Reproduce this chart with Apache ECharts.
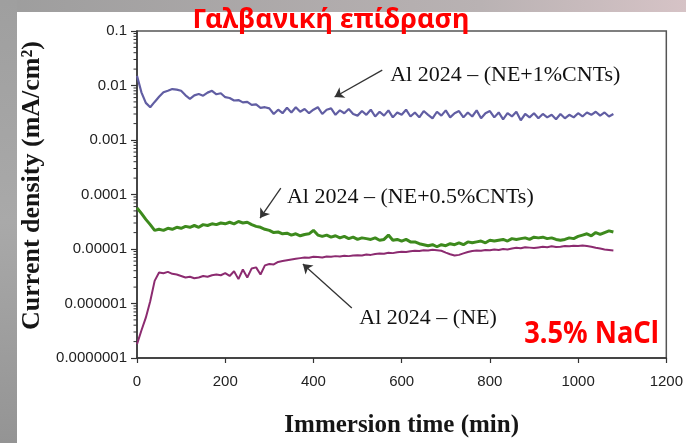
<!DOCTYPE html>
<html>
<head>
<meta charset="utf-8">
<script src="https://cdn.jsdelivr.net/npm/echarts@6/dist/echarts.min.js"></script>
<style>
  html, body { margin: 0; padding: 0; background: #ffffff; }
  #chart { width: 686px; height: 443px; }
</style>
</head>
<body>
<div id="chart"></div>
<script>
// Immersion time, minutes (sampling every 10 min)
const times = [
  0, 10, 20, 30, 40, 50, 60, 70, 80, 90,
  100, 110, 120, 130, 140, 150, 160, 170, 180, 190,
  200, 210, 220, 230, 240, 250, 260, 270, 280, 290,
  300, 310, 320, 330, 340, 350, 360, 370, 380, 390,
  400, 410, 420, 430, 440, 450, 460, 470, 480, 490,
  500, 510, 520, 530, 540, 550, 560, 570, 580, 590,
  600, 610, 620, 630, 640, 650, 660, 670, 680, 690,
  700, 710, 720, 730, 740, 750, 760, 770, 780, 790,
  800, 810, 820, 830, 840, 850, 860, 870, 880, 890,
  900, 910, 920, 930, 940, 950, 960, 970, 980, 990,
  1000, 1010, 1020, 1030, 1040, 1050, 1060, 1070, 1080
];

// Current density (mA/cm²), Al 2024 – (NE+1%CNTs)
const densityNe1Cnt = [
  0.015, 0.0075, 0.0048, 0.0040, 0.0050, 0.0062, 0.0075, 0.0080, 0.0086, 0.0084,
  0.0080, 0.0066, 0.0057, 0.0066, 0.0070, 0.0065, 0.0074, 0.0080, 0.0069, 0.0072,
  0.0061, 0.0059, 0.0053, 0.0054, 0.0049, 0.0050, 0.0044, 0.0045, 0.0039, 0.0040,
  0.0038, 0.0030, 0.0036, 0.0031, 0.0039, 0.0032, 0.0040, 0.0033, 0.0037, 0.0031,
  0.0036, 0.0040, 0.0030, 0.0036, 0.0038, 0.0029, 0.0035, 0.0031, 0.0037, 0.0030,
  0.0028, 0.0034, 0.0029, 0.0036, 0.0027, 0.0033, 0.0028, 0.0035, 0.0026, 0.0032,
  0.0029, 0.0036, 0.0027, 0.0032, 0.0026, 0.0034, 0.0029, 0.0025, 0.0033, 0.0028,
  0.0035, 0.0026, 0.0031, 0.0034, 0.0026, 0.0032, 0.0027, 0.0035, 0.0025, 0.0031,
  0.0034, 0.0026, 0.0032, 0.0024, 0.0031, 0.0027, 0.0033, 0.0023, 0.0030, 0.0026,
  0.0031, 0.0025, 0.0030, 0.0026, 0.0029, 0.0024, 0.0030, 0.0025, 0.0029, 0.0026,
  0.0031, 0.0027, 0.0032, 0.0029, 0.0033, 0.0028, 0.0032, 0.0027, 0.0030
];

// Current density (mA/cm²), Al 2024 – (NE+0.5%CNTs)
const densityNe05Cnt = [
  5.7e-5, 4.5e-5, 3.5e-5, 2.8e-5, 2.2e-5, 2.3e-5, 2.2e-5, 2.4e-5, 2.3e-5, 2.5e-5,
  2.4e-5, 2.6e-5, 2.5e-5, 2.7e-5, 2.5e-5, 2.8e-5, 2.7e-5, 2.9e-5, 2.8e-5, 3.0e-5,
  2.9e-5, 3.1e-5, 2.9e-5, 3.2e-5, 3.0e-5, 3.1e-5, 2.8e-5, 2.6e-5, 2.5e-5, 2.3e-5,
  2.2e-5, 2.0e-5, 2.05e-5, 1.9e-5, 1.95e-5, 1.8e-5, 1.9e-5, 1.75e-5, 1.85e-5, 1.9e-5,
  2.2e-5, 1.8e-5, 1.7e-5, 1.8e-5, 1.65e-5, 1.75e-5, 1.6e-5, 1.7e-5, 1.55e-5, 1.65e-5,
  1.5e-5, 1.6e-5, 1.55e-5, 1.5e-5, 1.6e-5, 1.45e-5, 1.5e-5, 1.8e-5, 1.45e-5, 1.5e-5,
  1.4e-5, 1.5e-5, 1.35e-5, 1.35e-5, 1.25e-5, 1.2e-5, 1.15e-5, 1.2e-5, 1.1e-5, 1.2e-5,
  1.15e-5, 1.25e-5, 1.2e-5, 1.3e-5, 1.2e-5, 1.35e-5, 1.3e-5, 1.35e-5, 1.4e-5, 1.3e-5,
  1.45e-5, 1.4e-5, 1.45e-5, 1.5e-5, 1.4e-5, 1.55e-5, 1.5e-5, 1.55e-5, 1.6e-5, 1.5e-5,
  1.65e-5, 1.6e-5, 1.65e-5, 1.55e-5, 1.6e-5, 1.5e-5, 1.45e-5, 1.5e-5, 1.6e-5, 1.55e-5,
  1.7e-5, 1.8e-5, 1.9e-5, 1.75e-5, 2.0e-5, 1.85e-5, 2.0e-5, 2.15e-5, 2.05e-5
];

// Current density (mA/cm²), Al 2024 – (NE)
const densityNe = [
  1.8e-7, 3.2e-7, 5.5e-7, 1.1e-6, 2.6e-6, 3.7e-6, 3.6e-6, 3.8e-6, 3.5e-6, 3.4e-6,
  3.2e-6, 3.0e-6, 3.1e-6, 2.9e-6, 3.0e-6, 3.2e-6, 3.1e-6, 3.3e-6, 3.4e-6, 3.3e-6,
  3.6e-6, 3.2e-6, 3.9e-6, 2.8e-6, 4.2e-6, 3.0e-6, 4.4e-6, 4.6e-6, 3.4e-6, 5.0e-6,
  5.3e-6, 5.2e-6, 5.8e-6, 6.0e-6, 6.2e-6, 6.4e-6, 6.6e-6, 6.8e-6, 7.0e-6, 6.9e-6,
  7.2e-6, 7.1e-6, 7.0e-6, 7.3e-6, 7.2e-6, 7.4e-6, 7.3e-6, 7.5e-6, 7.4e-6, 7.6e-6,
  7.7e-6, 7.6e-6, 7.9e-6, 7.8e-6, 8.1e-6, 8.3e-6, 8.2e-6, 8.5e-6, 8.4e-6, 8.7e-6,
  8.9e-6, 8.8e-6, 9.1e-6, 9.3e-6, 9.2e-6, 9.5e-6, 9.4e-6, 9.7e-6, 9.5e-6, 9.3e-6,
  8.6e-6, 8.0e-6, 7.6e-6, 7.8e-6, 8.3e-6, 8.8e-6, 9.2e-6, 9.4e-6, 9.3e-6, 9.6e-6,
  9.5e-6, 9.8e-6, 9.6e-6, 1.0e-5, 9.8e-6, 1.02e-5, 1.05e-5, 1.03e-5, 1.08e-5, 1.06e-5,
  1.04e-5, 1.07e-5, 1.1e-5, 1.08e-5, 1.12e-5, 1.09e-5, 1.1e-5, 1.13e-5, 1.12e-5, 1.15e-5,
  1.14e-5, 1.16e-5, 1.13e-5, 1.1e-5, 1.05e-5, 1.02e-5, 9.8e-6, 9.6e-6, 9.4e-6
];

// Axis ticks
const xTicks = [0, 200, 400, 600, 800, 1000, 1200];
const yDecades = [1e-7, 1e-6, 1e-5, 1e-4, 1e-3, 1e-2, 1e-1];

// Curve annotations: label anchor and arrow (from -> to), in data units
const annotationLabels = ['Al 2024 – (NE+1%CNTs)', 'Al 2024 – (NE+0.5%CNTs)', 'Al 2024 – (NE)'];
const annotationAnchors = [[574, 0.0156], [340, 9.0e-5], [504, 5.4e-7]];
const arrowFrom = [[556, 0.0192], [326, 1.31e-4], [487, 8.3e-7]];
const arrowTo = [[448, 0.00615], [279, 3.7e-5], [376, 5.3e-6]];

// Log-scale minor tick positions (2..9 × 10^n) between the decades
const minorTicks = [];
for (let d = 0; d < yDecades.length - 1; d++) {
  for (let k = 2; k <= 9; k++) minorTicks.push(+(k * yDecades[d]).toPrecision(3));
}

const colors = { ne1: '#615ea3', ne05: '#3d8a1d', ne: '#8c2b70' };
const serif = '"Liberation Serif", "DejaVu Serif", serif';
const sans = '"Liberation Sans", Arial, sans-serif';

const pairs = (ys) => times.map((t, i) => [t, ys[i]]);

const chart = echarts.init(document.getElementById('chart'), null, { renderer: 'canvas' });

const option = {
  backgroundColor: '#ffffff',
  animation: false,
  grid: {
    left: 137, right: 16, top: 31, bottom: 85,
    show: true, borderColor: '#555555', borderWidth: 1.5, backgroundColor: 'transparent'
  },
  xAxis: {
    type: 'value', min: 0, max: 1200, interval: 200,
    name: 'Immersion time (min)', nameLocation: 'middle', nameGap: 55,
    nameTextStyle: { fontFamily: serif, fontWeight: 'bold', fontSize: 25, color: '#161616' },
    axisLine: { show: true, lineStyle: { color: '#333333', width: 1.5 } },
    axisTick: { show: true, length: 5, lineStyle: { color: '#333333', width: 1.2 } },
    axisLabel: { fontFamily: sans, fontSize: 15, color: '#222222', margin: 16,
      formatter: (v) => (xTicks.indexOf(v) >= 0 ? String(v) : '') },
    splitLine: { show: false }
  },
  yAxis: {
    type: 'log', logBase: 10, min: 1e-7, max: 0.1,
    name: 'Current density (mA/cm²)', nameLocation: 'middle', nameGap: 89,
    nameTextStyle: { fontFamily: serif, fontWeight: 'bold', fontSize: 26, color: '#161616',
      padding: [0, 0, 0, 18] },
    axisLine: { show: true, lineStyle: { color: '#333333', width: 1.5 } },
    axisTick: { show: true, length: 6, lineStyle: { color: '#333333', width: 1.2 } },
    axisLabel: { fontFamily: sans, fontSize: 15, color: '#222222', margin: 10,
      formatter: (v) => {
        const p = Math.round(-Math.log10(v));
        return v.toFixed(Math.max(p, 0));
      } },
    splitLine: { show: false }
  },
  series: [
    {
      name: annotationLabels[0], type: 'line', data: pairs(densityNe1Cnt),
      showSymbol: false, lineStyle: { color: colors.ne1, width: 2.2 }, z: 3
    },
    {
      name: annotationLabels[1], type: 'line', data: pairs(densityNe05Cnt),
      showSymbol: false, lineStyle: { color: colors.ne05, width: 3 }, z: 3
    },
    {
      name: annotationLabels[2], type: 'line', data: pairs(densityNe),
      showSymbol: false, lineStyle: { color: colors.ne, width: 2 }, z: 3,
      markLine: {
        silent: true, symbol: ['none', 'arrow'], symbolSize: 9,
        label: { show: false },
        lineStyle: { color: '#333333', width: 1.3, type: 'solid' },
        data: arrowFrom.map((f, i) => [{ coord: f }, { coord: arrowTo[i] }])
      }
    },
    {
      // minor ticks on the log axis, drawn outward from the axis line
      type: 'custom', silent: true, clip: false, z: 4,
      data: minorTicks.map((v) => [0, v]),
      renderItem: (params, api) => {
        const p = api.coord([0, api.value(1)]);
        return {
          type: 'line',
          shape: { x1: p[0] - 3.5, y1: p[1], x2: p[0], y2: p[1] },
          style: { stroke: '#333333', lineWidth: 1 }
        };
      }
    }
  ]
};

chart.setOption(option);

// Text placed at the annotation anchors, plus the frame strips and headings
const labelGraphics = annotationLabels.map((txt, i) => {
  const p = chart.convertToPixel({ gridIndex: 0 }, annotationAnchors[i]);
  return {
    type: 'text', x: p[0], y: p[1], z: 10,
    style: { text: txt, font: '22px ' + serif, fill: '#111111',
      textAlign: 'left', textVerticalAlign: 'middle' }
  };
});

chart.setOption({
  graphic: [
    {
      type: 'rect', shape: { x: 0, y: 0, width: 686, height: 12 }, z: -10,
      style: { fill: new echarts.graphic.LinearGradient(0, 0, 1, 0, [
        { offset: 0, color: '#9d9d9d' }, { offset: 0.7, color: '#b9b2b3' }, { offset: 1, color: '#d6c3c6' }
      ]) }
    },
    {
      type: 'rect', shape: { x: 0, y: 0, width: 17, height: 443 }, z: -10,
      style: { fill: new echarts.graphic.LinearGradient(0, 0, 0, 1, [
        { offset: 0, color: '#9f9f9f' }, { offset: 0.5, color: '#a9a9a9' }, { offset: 1, color: '#949494' }
      ]) }
    },
    {
      type: 'text', x: 331, y: 20, z: 20,
      style: { text: 'Γαλβανική επίδραση', font: 'bold 27px "Noto Sans", sans-serif',
        fill: '#ff0000', textAlign: 'center', textVerticalAlign: 'middle' }
    },
    {
      type: 'text', x: 659, y: 334, scaleX: 0.91, z: 20,
      style: { text: '3.5% NaCl', font: 'bold 30px "Noto Sans", sans-serif',
        fill: '#ff0000', textAlign: 'right', textVerticalAlign: 'middle' }
    }
  ].concat(labelGraphics)
});
</script>
</body>
</html>
